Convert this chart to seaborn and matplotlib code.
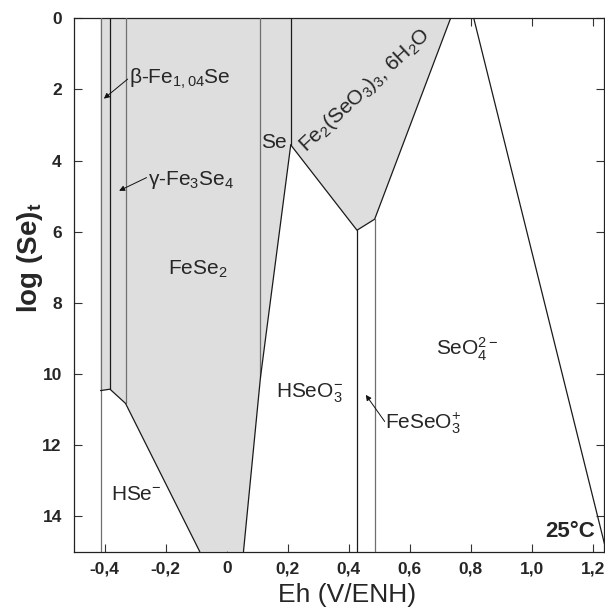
import matplotlib
matplotlib.use("Agg")
import matplotlib.pyplot as plt
import seaborn as sns
import pandas as pd

# ---------------- data ----------------
# shaded (solid phases) polygon: Eh (V) and log(Se)t
shade_eh = [-0.414, 0.734, 0.485, 0.427, 0.2098, 0.1105, 0.0548, -0.0885, -0.332, -0.383, -0.414]
shade_log = [0.0, 0.0, 5.65, 5.96, 3.56, 10.1, 15.0, 15.0, 10.83, 10.43, 10.47]

# boundary lines
line_names = ["b1", "b2", "b3", "hse", "b5", "b6", "se_low", "fe2", "b9", "b10", "o2"]
line_eh = [
    [-0.414, -0.414],
    [-0.383, -0.383],
    [-0.332, -0.332],
    [-0.414, -0.383, -0.332, -0.0885],
    [0.1105, 0.1105],
    [0.2098, 0.2098],
    [0.2098, 0.1105, 0.0548],
    [0.2098, 0.427, 0.485, 0.734],
    [0.427, 0.427],
    [0.485, 0.485],
    [0.81, 1.245],
]
line_log = [
    [0.0, 15.0],
    [0.0, 10.43],
    [0.0, 10.83],
    [10.47, 10.43, 10.83, 15.0],
    [0.0, 10.1],
    [0.0, 3.56],
    [3.56, 10.1, 15.0],
    [3.56, 5.96, 5.65, 0.0],
    [5.96, 15.0],
    [5.65, 15.0],
    [0.0, 15.0],
]
line_dark = [False, True, False, True, False, True, True, True, True, False, True]

x_ticks = [-0.4, -0.2, 0.0, 0.2, 0.4, 0.6, 0.8, 1.0, 1.2]
x_tick_labels = ["-0,4", "-0,2", "0", "0,2", "0,4", "0,6", "0,8", "1,0", "1,2"]
y_ticks = [0, 2, 4, 6, 8, 10, 12, 14]
y_tick_labels = ["0", "2", "4", "6", "8", "10", "12", "14"]

# ---------------- style ----------------
sns.set_theme(style="ticks")
plt.rcParams["font.family"] = ["Liberation Sans", "DejaVu Sans"]
plt.rcParams["mathtext.fontset"] = "custom"
plt.rcParams["mathtext.rm"] = "Liberation Sans"
plt.rcParams["mathtext.it"] = "Liberation Sans:italic"
plt.rcParams["mathtext.bf"] = "Liberation Sans:bold"

fig = plt.figure(figsize=(6.05, 6.10), dpi=100)
ax = fig.add_axes([0.1228, 0.0956, 0.875, 0.8744])

ax.fill(shade_eh, shade_log, color="#dedede", lw=0, zorder=1)

for name, xs, ys, dark in zip(line_names, line_eh, line_log, line_dark):
    df = pd.DataFrame({"Eh": xs, "logSe": ys})
    sns.lineplot(data=df, x="Eh", y="logSe", sort=False, estimator=None,
                 color="#1a1a1a" if dark else "#6f6f6f", lw=0.9, ax=ax, zorder=3)

ax.set_xlim(-0.5, 1.236)
ax.set_ylim(15, 0)
ax.set_xticks(x_ticks)
ax.set_xticklabels(x_tick_labels, fontweight="bold", fontsize=12.5)
ax.set_yticks(y_ticks)
ax.set_yticklabels(y_tick_labels, fontweight="bold", fontsize=12.5)
ax.tick_params(direction="in", length=6, width=0.8, top=True, right=True,
               color="#333333")
ax.tick_params(axis="x", pad=7)
ax.tick_params(axis="y", pad=9)
for s in ax.spines.values():
    s.set_linewidth(0.9)
    s.set_color("#222222")

ax.set_xlabel("Eh (V/ENH)", fontsize=19)
ax.set_ylabel(r"log (Se)$_\mathregular{t}$", fontsize=20, fontweight="bold")
ax.xaxis.set_label_coords(0.515, -0.058)
ax.yaxis.set_label_coords(-0.056, 0.55)

fs = 15
arrow_kw = dict(arrowstyle="-|>", color="#111111", lw=0.7, mutation_scale=8, shrinkA=0, shrinkB=0)
ax.text(-0.321, 1.71, r"β-Fe$_\mathregular{1,04}$Se", fontsize=fs, va="center", ha="left", zorder=5)
ax.annotate("", xy=(-0.403, 2.26), xytext=(-0.325, 1.71), arrowprops=arrow_kw, zorder=5)
ax.text(-0.259, 4.55, r"γ-Fe$_\mathregular{3}$Se$_\mathregular{4}$", fontsize=fs, va="center", ha="left", zorder=5)
ax.annotate("", xy=(-0.353, 4.85), xytext=(-0.263, 4.48), arrowprops=arrow_kw, zorder=5)
ax.text(-0.095, 7.05, r"FeSe$_\mathregular{2}$", fontsize=fs, va="center", ha="center", zorder=5)
ax.text(0.154, 3.5, "Se", fontsize=fs, va="center", ha="center", zorder=5)
ax.text(0.452, 2.02, r"Fe$_\mathregular{2}$(SeO$_\mathregular{3}$)$_\mathregular{3}$, 6H$_\mathregular{2}$O",
        fontsize=fs, va="center", ha="center", rotation=43, rotation_mode="anchor", zorder=5)
ax.text(0.272, 10.55, r"HSeO$_\mathregular{3}^\mathregular{-}$", fontsize=fs, va="center", ha="center", zorder=5)
ax.text(0.520, 11.4, r"FeSeO$_\mathregular{3}^\mathregular{+}$", fontsize=fs, va="center", ha="left", zorder=5)
ax.annotate("", xy=(0.456, 10.59), xytext=(0.518, 11.34), arrowprops=arrow_kw, zorder=5)
ax.text(0.685, 9.3, r"SeO$_\mathregular{4}^\mathregular{2-}$", fontsize=fs, va="center", ha="left", zorder=5)
ax.text(-0.295, 13.38, r"HSe$^\mathregular{-}$", fontsize=fs, va="center", ha="center", zorder=5)
ax.text(1.207, 14.44, "25°C", fontsize=16, fontweight="bold", va="center", ha="right", zorder=5)

fig.savefig("out.png", dpi=100)
